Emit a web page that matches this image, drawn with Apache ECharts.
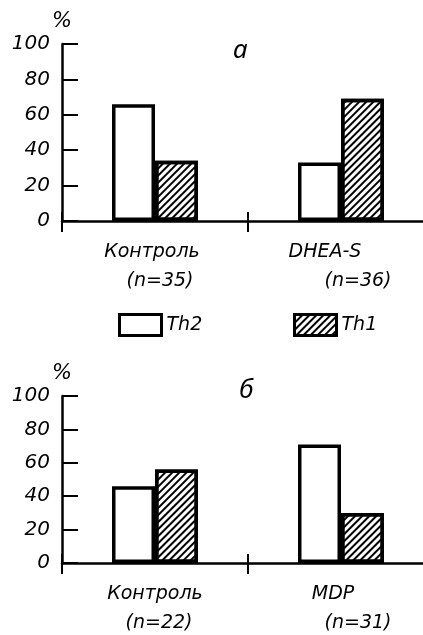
<!DOCTYPE html>
<html>
<head>
<meta charset="utf-8">
<script src="https://cdn.jsdelivr.net/npm/echarts@6/dist/echarts.min.js"></script>
<style>
html,body{margin:0;padding:0;background:#fff;}
#c{width:423px;height:635px;}
</style>
</head>
<body>
<div id="c"></div>
<script>
// ---- data ----
var categoriesA = ['Контроль', 'DHEA-S'];
var countsA = ['(n=35)', '(n=36)'];
var categoriesB = ['Контроль', 'MDP'];
var countsB = ['(n=22)', '(n=31)'];
var th2A = [66, 33];
var th1A = [34, 69];
var th2B = [46, 71];
var th1B = [56, 30];
var yTicks = [0, 20, 40, 60, 80, 100];
var panelTitles = ['а', 'б'];
var seriesNames = ['Th2', 'Th1'];

var FONT = 'DejaVu Sans';
var txt = {fontFamily: FONT, fontStyle: 'italic', color: '#000'};
function t(extra){ var o = {}; for (var k in txt) o[k] = txt[k]; for (var k2 in extra) o[k2] = extra[k2]; return o; }

// per-label horizontal nudges (label layout only)
var padsA = [[6, 10], [32, 34]];
var padsB = [[0, 8], [16, 34]];

function catRich(pads){
  var r = {};
  pads.forEach(function(p, i){
    r['a' + i] = t({fontSize: 19, lineHeight: 29, padding: [0, p[0], 0, 0]});
    r['b' + i] = t({fontSize: 19, lineHeight: 29, padding: [0, 0, 0, p[1]]});
  });
  return r;
}
function catFormatter(cats, counts){
  return function(v, i){ return '{a' + i + '|' + cats[i] + '}\n{b' + i + '|' + counts[i] + '}'; };
}

var grids = [
  {left: 62, top: 44, width: 372, height: 177, outerBoundsMode: 'none', containLabel: false},
  {left: 62, top: 396, width: 372, height: 167, outerBoundsMode: 'none', containLabel: false}
];

function mainX(gi, cats, counts, pads){
  return {
    type: 'category', gridIndex: gi, data: cats, position: 'bottom',
    axisLine: {show: true, lineStyle: {color: '#000', width: 2.5}},
    axisTick: {show: true, length: 11, lineStyle: {color: '#000', width: 2}},
    axisLabel: {margin: 17, formatter: catFormatter(cats, counts), rich: catRich(pads)},
    splitLine: {show: false}
  };
}
function innerX(gi, cats){
  return {
    type: 'category', gridIndex: gi, data: cats, position: 'bottom',
    axisLine: {show: false},
    axisTick: {show: true, inside: true, length: 9, lineStyle: {color: '#000', width: 2}},
    axisLabel: {show: false},
    splitLine: {show: false}
  };
}
function yAx(gi){
  return {
    type: 'value', gridIndex: gi, min: yTicks[0], max: yTicks[yTicks.length - 1],
    interval: yTicks[1] - yTicks[0],
    name: '%', nameLocation: 'end', nameGap: 12,
    nameTextStyle: t({fontSize: 21, align: 'center'}),
    axisLine: {show: true, lineStyle: {color: '#000', width: 2.5}},
    axisTick: {show: true, inside: true, length: 16, lineStyle: {color: '#000', width: 2}},
    axisLabel: t({fontSize: 20, margin: 12}),
    splitLine: {show: false}
  };
}

var openStyle = {color: '#fff', borderColor: '#000', borderWidth: 3.5};
var hatchStyle = {
  color: '#fff', borderColor: '#000', borderWidth: 3.5,
  decal: {symbol: 'rect', symbolSize: 1, dashArrayX: [1, 0], dashArrayY: [1.2, 2.6],
          rotation: -Math.PI / 4, color: '#000'}
};

function bar(name, data, xi, yi, style){
  return {
    type: 'bar', name: name, data: data, xAxisIndex: xi, yAxisIndex: yi,
    barWidth: 43, barGap: '0%', itemStyle: style, emphasis: {disabled: true},
    animation: false
  };
}

var titleStyle = {fontFamily: 'Noto Sans', fontStyle: 'italic', color: '#000', fontSize: 26, fontWeight: 'normal'};

var option = {
  backgroundColor: '#fff',
  animation: false,
  grid: grids,
  xAxis: [
    mainX(0, categoriesA, countsA, padsA), innerX(0, categoriesA),
    mainX(1, categoriesB, countsB, padsB), innerX(1, categoriesB)
  ],
  yAxis: [yAx(0), yAx(1)],
  legend: [
    {data: [seriesNames[0]], left: 113, top: 308, icon: 'rect', itemWidth: 42, itemHeight: 21,
     selectedMode: false, textStyle: t({fontSize: 19}), itemStyle: {borderWidth: 3}},
    {data: [seriesNames[1]], left: 288, top: 308, icon: 'rect', itemWidth: 42, itemHeight: 21,
     selectedMode: false, textStyle: t({fontSize: 19}), itemStyle: {borderWidth: 3}}
  ],
  title: [
    {text: panelTitles[0], left: 228, top: 33, textStyle: titleStyle},
    {text: panelTitles[1], left: 234, top: 373, textStyle: titleStyle}
  ],
  series: [
    bar(seriesNames[0], th2A, 0, 0, openStyle),
    bar(seriesNames[1], th1A, 0, 0, hatchStyle),
    bar(seriesNames[0], th2B, 2, 1, openStyle),
    bar(seriesNames[1], th1B, 2, 1, hatchStyle)
  ]
};

var chart = echarts.init(document.getElementById('c'), null, {renderer: 'canvas'});
chart.setOption(option);
</script>
</body>
</html>
